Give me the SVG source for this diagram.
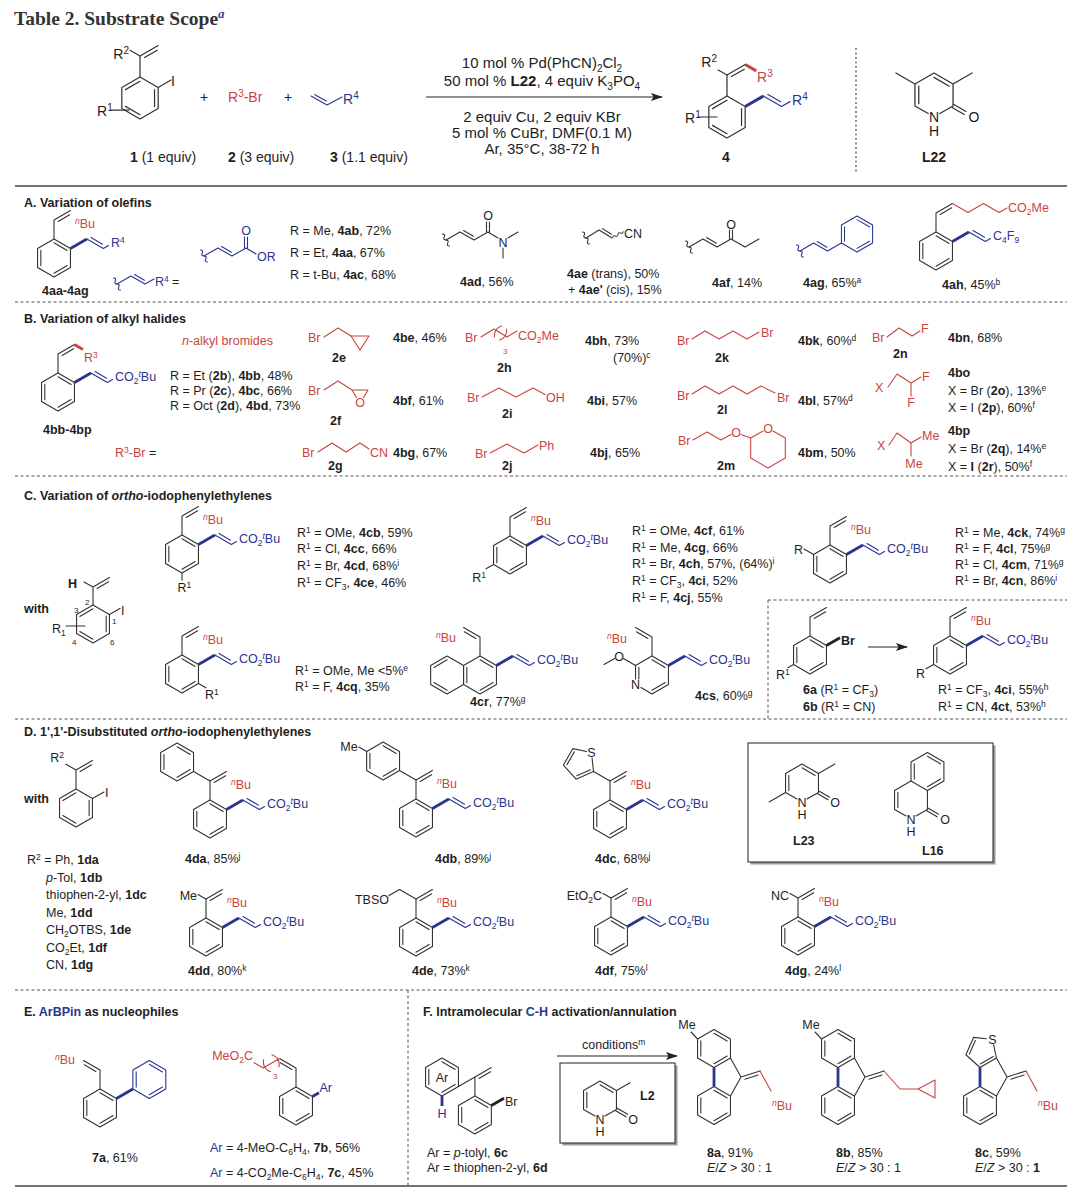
<svg xmlns="http://www.w3.org/2000/svg" width="1080" height="1193" viewBox="0 0 1080 1193">
<style>
text{font-family:"Liberation Sans",Arial,Helvetica,sans-serif;font-size:12.5px;fill:#1e1e1e}
.ttl{font-family:"Liberation Serif","Times New Roman",serif;font-weight:bold;font-size:19.5px;fill:#333}
.h{font-size:14px}
.cd{font-size:15px}
.b{font-weight:bold}
.it{font-style:italic}
.red{fill:#c8453f}
.blu{fill:#2a3590}
.sp{font-size:8.5px;baseline-shift:4.5px}
.sb{font-size:8.5px;baseline-shift:-3px}
.sph{font-size:10px;baseline-shift:5.5px}
.sbh{font-size:10px;baseline-shift:-3.5px}
.num{font-size:8px}
.k{fill:none;stroke:#333;stroke-width:1.1;stroke-linecap:round;stroke-linejoin:round}
.kr{fill:none;stroke:#c8453f;stroke-width:1.1;stroke-linecap:round;stroke-linejoin:round}
.kb{fill:none;stroke:#2a3590;stroke-width:1.1;stroke-linecap:round;stroke-linejoin:round}
.wb{fill:none;stroke:#2a3590;stroke-width:2.8}
.wr{fill:none;stroke:#c8453f;stroke-width:2.8}
.wk{fill:none;stroke:#222;stroke-width:2.8}
.rule{stroke:#444;stroke-width:1.3}
.dash{stroke:#555;stroke-width:1;stroke-dasharray:3 2.5}
.dot{stroke:#444;stroke-width:1.2;stroke-dasharray:2 2.5}
.box{fill:#fff;stroke:#333;stroke-width:1.1}
.shd{fill:#9a9a9a}
</style>
<defs>
<marker id="ah" viewBox="0 0 12 8" refX="11" refY="4" markerWidth="12" markerHeight="8" markerUnits="userSpaceOnUse" orient="auto"><path d="M0,0 L12,4 L0,8 L2.5,4 Z" fill="#222"/></marker>
<path id="hx" d="M0,-19 L16.45,-9.5 L16.45,9.5 L0,19 L-16.45,9.5 L-16.45,-9.5 Z"/>
<g id="rA"><use href="#hx"/><path d="M-13.16,7.6 L-13.16,-7.6 M13.16,7.6 L0,15.2 M0,-15.2 L13.16,-7.6"/></g>
<g id="rB"><use href="#hx"/><path d="M-13.16,-7.6 L0,-15.2 M13.16,-7.6 L13.16,7.6 M0,15.2 L-13.16,7.6"/></g>
<path id="zvR" d="M0,-19 L0,-38 L16.45,-47.5 M4.12,-36.57 L15.63,-43.21"/>
<path id="zvL" d="M0,-19 L0,-38 L-16.45,-47.5 M-4.12,-36.57 L-15.63,-43.21"/>
<g id="ch"><path class="wb" d="M16.45,-9.5 L32.9,-19"/><path class="kb" d="M32.9,-19 L49.35,-9.5 L54.5,-12.5 M37.02,-20.43 L48.53,-13.79"/></g>
<g id="P"><use href="#rA" class="k"/><use href="#zvR" class="k"/><use href="#ch"/></g>
<path id="wv" d="M-7,0 q1.75,-2.6 3.5,0 t3.5,0 t3.5,0 t3.5,0"/>
<g id="fUp"><use href="#rA" class="k" transform="translate(0,-28.5)"/></g>
<g id="fLo"><use href="#rA" class="k" transform="translate(0,28.5) scale(1,-1)"/><path class="k" d="M16.45,-19 L27,0 L16.45,19 M27,0 L46,-6 M30.82,2.15 L44.1,-2.05"/><path class="wb" d="M0,-9.5 L0,9.5"/></g>
</defs>

<rect width="1080" height="1193" fill="#fff"/>

<!-- ============ HEADER ============ -->
<g id="title"><text class="ttl" x="14" y="25">Table 2. Substrate Scope<tspan class="it" font-size="13" dy="-7" fill="#4a3f9a">a</tspan></text></g>

<g id="n-sm1">
 <g transform="translate(140,98) scale(1.105)">
  <use href="#rB" class="k"/>
  <use href="#zvR" class="k"/>
  <path class="k" d="M0,-38 L-9,-43.2 M16.45,-9.5 L28,-16.2 M-26,11 L-10,11"/>
 </g>
 <text class="h" x="129" y="59" text-anchor="end">R<tspan class="sph">2</tspan></text>
 <text class="h" x="171" y="86">I</text>
 <text class="h" x="97" y="116">R<tspan class="sph">1</tspan></text>
 <text class="h" x="130" y="162"><tspan class="b">1</tspan> (1 equiv)</text>
</g>
<g id="n-plus1"><text class="h" x="204" y="102" text-anchor="middle">+</text></g>
<g id="n-sm2">
 <text class="h red" x="228" y="102">R<tspan class="sph">3</tspan>-Br</text>
 <text class="h" x="228" y="162"><tspan class="b">2</tspan> (3 equiv)</text>
</g>
<g id="n-plus2"><text class="h" x="288" y="102" text-anchor="middle">+</text></g>
<g id="n-sm3">
 <path class="kb" d="M311,96 L327,105 L342,97 M314.9,94.7 L326.1,101"/>
 <text class="h blu" x="343" y="104">R<tspan class="sph">4</tspan></text>
 <text class="h" x="330" y="162"><tspan class="b">3</tspan> (1.1 equiv)</text>
</g>
<g id="n-cond">
 <text class="cd" x="542" y="68" text-anchor="middle">10 mol % Pd(PhCN)<tspan class="sbh">2</tspan>Cl<tspan class="sbh">2</tspan></text>
 <text class="cd" x="542" y="86" text-anchor="middle">50 mol %  <tspan class="b">L22</tspan>, 4 equiv K<tspan class="sbh">3</tspan>PO<tspan class="sbh">4</tspan></text>
 <text class="cd" x="542" y="122" text-anchor="middle">2 equiv Cu, 2 equiv KBr</text>
 <text class="cd" x="542" y="138" text-anchor="middle">5 mol % CuBr, DMF(0.1 M)</text>
 <text class="cd" x="542" y="154" text-anchor="middle">Ar, 35°C, 38-72 h</text>
</g>
<g id="n-p4">
 <g transform="translate(727,117) scale(1.105)">
  <use href="#rB" class="k"/>
  <use href="#zvR" class="k"/>
  <path class="k" d="M0,-38 L-8,-42.6 M-26,0 L-9,0"/>
  <path class="wr" d="M16.45,-47.5 L26.5,-41.7"/>
  <path class="wb" d="M16.45,-9.5 L32.9,-19"/>
  <path class="kb" d="M32.9,-19 L49.35,-9.5 L57,-13.9 M37.02,-20.43 L48.53,-13.79"/>
 </g>
 <text class="h" x="717" y="67" text-anchor="end">R<tspan class="sph">2</tspan></text>
 <text class="h red" x="757" y="82">R<tspan class="sph">3</tspan></text>
 <text class="h blu" x="792" y="105">R<tspan class="sph">4</tspan></text>
 <text class="h" x="685" y="123">R<tspan class="sph">1</tspan></text>
 <text class="h b" x="722" y="162">4</text>
</g>
<g id="n-L22">
 <g transform="translate(934,95) scale(1.158)">
  <path class="k" d="M-16.45,9.5 L-16.45,-9.5 L0,-19 L16.45,-9.5 L16.45,9.5 L5,16 M-16.45,9.5 L-5,16 M-13.16,7.6 L-13.16,-7.6 M0,-15.2 L13.16,-7.6 M16.45,-9.5 L32.9,-19 M-16.45,-9.5 L-32.9,-19 M15.7,10.8 L26.1,16.8 M17.2,8.2 L27.6,14.2"/>
 </g>
 <text class="h" x="934" y="122" text-anchor="middle">N</text>
 <text class="h" x="934" y="136" text-anchor="middle">H</text>
 <text class="h" x="974" y="122" text-anchor="middle">O</text>
 <text class="h b" x="934" y="162" text-anchor="middle">L22</text>
</g>

<!-- ============ SECTION A ============ -->
<g id="secA">
<text class="b" x="24" y="207">A. Variation of olefins</text>
<g id="n4aa" transform="translate(54,258)">
 <use href="#P"/>
 <text x="21" y="-30" class="red"><tspan class="sp it">n</tspan>Bu</text>
 <text x="57" y="-11" class="blu">R<tspan class="sp">4</tspan></text>
</g>
<text class="b" x="42" y="295">4aa-4ag</text>
<g id="n-r4def">
 <use href="#wv" class="kb" transform="translate(117,284) rotate(60)"/>
 <path class="kb" d="M117,284 L131,276 L145,284 L154,279 M134.6,274.6 L144.4,280.2"/>
 <text x="155" y="286" class="blu">R<tspan class="sp">4</tspan></text>
 <text x="172" y="286">=</text>
</g>
<g id="n-acr">
 <use href="#wv" class="kb" transform="translate(204,256) rotate(60)"/>
 <path class="kb" d="M204,256 L218,248 L232,256 L246,248 L256,254 M221.6,246.6 L231.4,252.2 M244.5,248 L244.5,237 M247.5,248 L247.5,237"/>
 <text x="246" y="235" text-anchor="middle" class="blu">O</text>
 <text x="257" y="261" class="blu">OR</text>
</g>
<text x="290" y="235">R = Me, <tspan class="b">4ab</tspan>, 72%</text>
<text x="290" y="257">R = Et, <tspan class="b">4aa</tspan>, 67%</text>
<text x="290" y="279">R = t-Bu, <tspan class="b">4ac</tspan>, 68%</text>
<g id="n4ad">
 <use href="#wv" class="k" transform="translate(446,240) rotate(60)"/>
 <path class="k" d="M446,240 L460,232 L474,240 L488,232 L498,238 M463.6,230.6 L473.4,236.2 M486.5,232 L486.5,222 M489.5,232 L489.5,222 M508,238 L518,232 M503,248 L503,258"/>
 <text x="488" y="220" text-anchor="middle">O</text>
 <text x="503" y="246.5" text-anchor="middle">N</text>
 <text x="460" y="286"><tspan class="b">4ad</tspan>, 56%</text>
</g>
<g id="n4ae">
 <use href="#wv" class="k" transform="translate(586,238) rotate(60)"/>
 <path class="k" d="M586,238 L599,230 L612,238 M602.5,228.6 L611.5,234.2"/>
 <use href="#wv" class="k" transform="translate(618,234.5) rotate(-30) scale(0.85)"/>
 <text x="624" y="238">CN</text>
 <text x="567" y="278"><tspan class="b">4ae</tspan> (trans), 50%</text>
 <text x="568" y="294">+ <tspan class="b">4ae'</tspan> (cis), 15%</text>
</g>
<g id="n4af">
 <use href="#wv" class="k" transform="translate(689,247) rotate(60)"/>
 <path class="k" d="M689,247 L703,239 L717,247 L731,239 L745,247 L759,239 M706.6,237.6 L716.4,243.2 M729.5,239 L729.5,230 M732.5,239 L732.5,230"/>
 <text x="731" y="229" text-anchor="middle">O</text>
 <text x="712" y="287"><tspan class="b">4af</tspan>, 14%</text>
</g>
<g id="n4ag">
 <use href="#wv" class="kb" transform="translate(800,251) rotate(60)"/>
 <path class="kb" d="M800,251 L813.6,243 L827.5,251 L841.4,243 M817.2,241.6 L826.9,247.2"/>
 <use href="#rA" class="kb" transform="translate(857,234) scale(0.947)"/>
 <text x="803" y="287"><tspan class="b">4ag</tspan>, 65%<tspan class="sp">a</tspan></text>
</g>
<g id="n4ah" transform="translate(936,251)">
 <use href="#P"/>
 <path class="kr" d="M16.45,-47.5 L32,-38.5 L47.5,-47.5 L63,-38.5 L71,-43"/>
 <text x="72" y="-39" class="red">CO<tspan class="sb">2</tspan>Me</text>
 <text x="57" y="-11" class="blu">C<tspan class="sb">4</tspan>F<tspan class="sb">9</tspan></text>
 <text x="6" y="38"><tspan class="b">4ah</tspan>, 45%<tspan class="sp">b</tspan></text>
</g>
</g>

<!-- ============ SECTION B ============ -->
<g id="secB">
<text class="b" x="24" y="323">B. Variation of alkyl halides</text>
<g id="n4bb" transform="translate(58,392)">
 <use href="#P"/>
 <path class="wr" d="M16.45,-47.5 L25,-42.5"/>
 <text x="26" y="-30" class="red">R<tspan class="sp">3</tspan></text>
 <text x="57" y="-11" class="blu">CO<tspan class="sb">2</tspan><tspan class="sp it">t</tspan>Bu</text>
</g>
<text class="b" x="43" y="434">4bb-4bp</text>
<text class="red" x="182" y="345"><tspan class="it">n</tspan>-alkyl bromides</text>
<text x="170" y="380">R = Et (<tspan class="b">2b</tspan>), <tspan class="b">4bb</tspan>, 48%</text>
<text x="170" y="395">R = Pr (<tspan class="b">2c</tspan>), <tspan class="b">4bc</tspan>, 66%</text>
<text x="170" y="410">R = Oct (<tspan class="b">2d</tspan>), <tspan class="b">4bd</tspan>, 73%</text>
<text x="115" y="457"><tspan class="red">R<tspan class="sp">3</tspan>-Br</tspan>  =</text>

<g id="n2e">
 <text x="308" y="342" class="red">Br</text>
 <path class="kr" d="M324,337 L338,328 L351,336 L369,336 L360,350 L351,336"/>
 <text class="b" x="332" y="362">2e</text>
 <text x="393" y="342"><tspan class="b">4be</tspan>, 46%</text>
</g>
<g id="n2f">
 <text x="308" y="395" class="red">Br</text>
 <path class="kr" d="M324,390 L338,381 L352,390 L368,390 L363.5,397.5 M352,390 L356.5,397.5"/>
 <text x="360" y="407" text-anchor="middle" class="red">O</text>
 <text class="b" x="330" y="425">2f</text>
 <text x="393" y="405"><tspan class="b">4bf</tspan>, 61%</text>
</g>
<g id="n2g">
 <text x="302" y="457" class="red">Br</text>
 <path class="kr" d="M318,452 L332,443 L346,452 L360,443 L369,449"/>
 <text x="370" y="457" class="red">CN</text>
 <text class="b" x="328" y="470">2g</text>
 <text x="393" y="457"><tspan class="b">4bg</tspan>, 67%</text>
</g>
<g id="n2h">
 <text x="465" y="342" class="red">Br</text>
 <path class="kr" d="M481,337 L494,329 L507,337 L517,331 M494.5,336.9 Q493.6,328.8 501.3,325.9 M499.7,340.1 Q507.4,337.2 506.5,329.1"/>
 <text x="503" y="354" class="red num">3</text>
 <text x="518" y="340" class="red">CO<tspan class="sb">2</tspan>Me</text>
 <text class="b" x="497" y="372">2h</text>
 <text x="585" y="345"><tspan class="b">4bh</tspan>, 73%</text>
 <text x="613" y="362">(70%)<tspan class="sp">c</tspan></text>
</g>
<g id="n2i">
 <text x="467" y="402" class="red">Br</text>
 <path class="kr" d="M482,397 L499,388 L516,397 L533,388 L545,394.5"/>
 <text x="546" y="402" class="red">OH</text>
 <text class="b" x="502" y="418">2i</text>
 <text x="587" y="405"><tspan class="b">4bi</tspan>, 57%</text>
</g>
<g id="n2j">
 <text x="475" y="458" class="red">Br</text>
 <path class="kr" d="M490,453 L507,444 L524,453 L538,445"/>
 <text x="539" y="450" class="red">Ph</text>
 <text class="b" x="502" y="470">2j</text>
 <text x="590" y="457"><tspan class="b">4bj</tspan>, 65%</text>
</g>
<g id="n2k">
 <text x="677" y="345" class="red">Br</text>
 <path class="kr" d="M692,339 L705,331 L719,339 L733,331 L747,339 L759,332"/>
 <text x="761" y="337" class="red">Br</text>
 <text class="b" x="715" y="362">2k</text>
 <text x="798" y="345"><tspan class="b">4bk</tspan>, 60%<tspan class="sp">d</tspan></text>
</g>
<g id="n2l">
 <text x="677" y="400" class="red">Br</text>
 <path class="kr" d="M692,394 L705,386 L719,394 L733,386 L747,394 L761,386 L775,393"/>
 <text x="777" y="402" class="red">Br</text>
 <text class="b" x="717" y="414">2l</text>
 <text x="798" y="405"><tspan class="b">4bl</tspan>, 57%<tspan class="sp">d</tspan></text>
</g>
<g id="n2m">
 <text x="678" y="445" class="red">Br</text>
 <path class="kr" d="M693,440 L707,432 L721,440 L731,434.5 M741,434.5 L750.7,438 L750.7,458 L768,468 L785.3,458 L785.3,438 L773,431 M763,431 L750.7,438"/>
 <text x="736" y="436.5" text-anchor="middle" class="red">O</text>
 <text x="768" y="432.5" text-anchor="middle" class="red">O</text>
 <text class="b" x="717" y="470">2m</text>
 <text x="798" y="457"><tspan class="b">4bm</tspan>, 50%</text>
</g>
<g id="n2n">
 <text x="872" y="342" class="red">Br</text>
 <path class="kr" d="M887,337 L899,328 L912,336 L920,331"/>
 <text x="921" y="333" class="red">F</text>
 <text class="b" x="893" y="358">2n</text>
 <text x="948" y="342"><tspan class="b">4bn</tspan>, 68%</text>
</g>
<g id="n4bo">
 <text x="875" y="392" class="red">X</text>
 <path class="kr" d="M888,387 L897,374 L911,383 L921,377 M911,383 L911,396"/>
 <text x="922" y="381" class="red">F</text>
 <text x="911" y="407" text-anchor="middle" class="red">F</text>
 <text class="b" x="948" y="377">4bo</text>
 <text x="948" y="395">X = Br (<tspan class="b">2o</tspan>), 13%<tspan class="sp">e</tspan></text>
 <text x="948" y="412">X = I (<tspan class="b">2p</tspan>), 60%<tspan class="sp">f</tspan></text>
</g>
<g id="n4bp">
 <text x="877" y="450" class="red">X</text>
 <path class="kr" d="M889,445 L897,433 L911,443 L921,437 M911,443 L911,456"/>
 <text x="922" y="440" class="red">Me</text>
 <text x="914" y="468" text-anchor="middle" class="red">Me</text>
 <text class="b" x="948" y="435">4bp</text>
 <text x="948" y="453">X = Br (<tspan class="b">2q</tspan>), 14%<tspan class="sp">e</tspan></text>
 <text x="948" y="471">X = <tspan class="b">I</tspan> (<tspan class="b">2r</tspan>), 50%<tspan class="sp">f</tspan></text>
</g>
</g>

<!-- ============ SECTION C ============ -->
<g id="secC">
<text class="b" x="24" y="500">C. Variation of <tspan class="it">ortho</tspan>-iodophenylethylenes</text>
<text class="b" x="24" y="613">with</text>
<g id="n-withC">
 <g transform="translate(93,624)"><use href="#rB" class="k"/></g>
 <path class="k" d="M93,605 L93,587 L84,582 M93,587 L109.45,577.5 M97.1,588.4 L108.6,581.8 M109.45,614.5 L120,608.4 M66,626 L85,626"/>
 <text class="b" x="68" y="588">H</text>
 <text x="121" y="615">I</text>
 <text x="52" y="633">R<tspan class="sb">1</tspan></text>
 <text class="num" x="85" y="605">2</text>
 <text class="num" x="74" y="613">3</text>
 <text class="num" x="112" y="624">1</text>
 <text class="num" x="110" y="645">6</text>
 <text class="num" x="72" y="645">4</text>
</g>
<g id="n4cb" transform="translate(182,554)">
 <use href="#P"/>
 <path class="k" d="M0,19 L0,26"/>
 <text x="21" y="-30" class="red"><tspan class="sp it">n</tspan>Bu</text>
 <text x="57" y="-11" class="blu">CO<tspan class="sb">2</tspan><tspan class="sp it">t</tspan>Bu</text>
 <text x="-4.5" y="38">R<tspan class="sp">1</tspan></text>
</g>
<text x="297" y="537">R<tspan class="sp">1</tspan> = OMe, <tspan class="b">4cb</tspan>, 59%</text>
<text x="297" y="553">R<tspan class="sp">1</tspan> = Cl, <tspan class="b">4cc</tspan>, 66%</text>
<text x="297" y="570">R<tspan class="sp">1</tspan> = Br, <tspan class="b">4cd</tspan>, 68%<tspan class="sp">i</tspan></text>
<text x="297" y="587">R<tspan class="sp">1</tspan> = CF<tspan class="sb">3</tspan>, <tspan class="b">4ce</tspan>, 46%</text>

<g id="n4cf" transform="translate(510,555)">
 <use href="#P"/>
 <path class="k" d="M-16.45,9.5 L-24,13.8"/>
 <text x="21" y="-30" class="red"><tspan class="sp it">n</tspan>Bu</text>
 <text x="57" y="-11" class="blu">CO<tspan class="sb">2</tspan><tspan class="sp it">t</tspan>Bu</text>
 <text x="-24" y="27" text-anchor="end">R<tspan class="sp">1</tspan></text>
</g>
<text x="632" y="535">R<tspan class="sp">1</tspan> = OMe, <tspan class="b">4cf</tspan>, 61%</text>
<text x="632" y="552">R<tspan class="sp">1</tspan> = Me, <tspan class="b">4cg</tspan>, 66%</text>
<text x="632" y="568">R<tspan class="sp">1</tspan> = Br, <tspan class="b">4ch</tspan>, 57%, (64%)<tspan class="sp">i</tspan></text>
<text x="632" y="585">R<tspan class="sp">1</tspan> = CF<tspan class="sb">3</tspan>, <tspan class="b">4ci</tspan>, 52%</text>
<text x="632" y="602">R<tspan class="sp">1</tspan> = F, <tspan class="b">4cj</tspan>, 55%</text>

<g id="n4ck" transform="translate(830,564)">
 <use href="#P"/>
 <path class="k" d="M-16.45,-9.5 L-26,-15"/>
 <text x="21" y="-30" class="red"><tspan class="sp it">n</tspan>Bu</text>
 <text x="57" y="-11" class="blu">CO<tspan class="sb">2</tspan><tspan class="sp it">t</tspan>Bu</text>
 <text x="-27" y="-10" text-anchor="end">R</text>
</g>
<text x="955" y="537">R<tspan class="sp">1</tspan> = Me, <tspan class="b">4ck</tspan>, 74%<tspan class="sp">g</tspan></text>
<text x="955" y="553">R<tspan class="sp">1</tspan> = F, <tspan class="b">4cl</tspan>, 75%<tspan class="sp">g</tspan></text>
<text x="955" y="569">R<tspan class="sp">1</tspan> = Cl, <tspan class="b">4cm</tspan>, 71%<tspan class="sp">g</tspan></text>
<text x="955" y="585">R<tspan class="sp">1</tspan> = Br, <tspan class="b">4cn</tspan>, 86%<tspan class="sp">i</tspan></text>

<g id="n4co" transform="translate(182,674)">
 <use href="#P"/>
 <path class="k" d="M16.45,9.5 L24,13.8"/>
 <text x="21" y="-30" class="red"><tspan class="sp it">n</tspan>Bu</text>
 <text x="57" y="-11" class="blu">CO<tspan class="sb">2</tspan><tspan class="sp it">t</tspan>Bu</text>
 <text x="23" y="25">R<tspan class="sp">1</tspan></text>
</g>
<text x="295" y="675">R<tspan class="sp">1</tspan> = OMe, Me &lt;5%<tspan class="sp">e</tspan></text>
<text x="295" y="691">R<tspan class="sp">1</tspan> = F, <tspan class="b">4cq</tspan>, 35%</text>

<g id="n4cr" transform="translate(480,675)">
 <use href="#rA" class="k"/>
 <use href="#hx" class="k" transform="translate(-32.9,0)"/>
 <path class="k" d="M-46.06,-7.6 L-32.9,-15.2 M-32.9,15.2 L-46.06,7.6"/>
 <use href="#zvL" class="k"/>
 <use href="#ch"/>
 <text x="-24" y="-33" text-anchor="end" class="red"><tspan class="sp it">n</tspan>Bu</text>
 <text x="57" y="-11" class="blu">CO<tspan class="sb">2</tspan><tspan class="sp it">t</tspan>Bu</text>
 <text x="-10" y="31"><tspan class="b">4cr</tspan>, 77%<tspan class="sp">g</tspan></text>
</g>

<g id="n4cs" transform="translate(652,675)">
 <path class="k" d="M-16.45,4 L-16.45,-9.5 L0,-19 L16.45,-9.5 L16.45,9.5 L0,19 L-11,12.6 M-13.16,4 L-13.16,-7.6 M0,-15.2 L13.16,-7.6 M13.16,7.6 L0,15.2 M-16.45,-9.5 L-28.5,-16.5 M-37.5,-16.5 L-48,-10.5"/>
 <use href="#zvL" class="k"/>
 <use href="#ch"/>
 <text x="-16.45" y="14" text-anchor="middle">N</text>
 <text x="-33" y="-14.5" text-anchor="middle">O</text>
 <text x="-25" y="-32" text-anchor="end" class="red"><tspan class="sp it">n</tspan>Bu</text>
 <text x="57" y="-11" class="blu">CO<tspan class="sb">2</tspan><tspan class="sp it">t</tspan>Bu</text>
 <text x="43" y="25"><tspan class="b">4cs</tspan>, 60%<tspan class="sp">g</tspan></text>
</g>

<g id="n6a" transform="translate(810,655)">
 <use href="#rA" class="k"/>
 <use href="#zvR" class="k"/>
 <path class="wk" d="M16.45,-9.5 L30,-17.3"/>
 <path class="k" d="M-16.45,9.5 L-22,12.7"/>
 <text x="31" y="-10" class="b">Br</text>
 <text x="-34" y="24">R<tspan class="sp">1</tspan></text>
</g>
<text x="803" y="694"><tspan class="b">6a</tspan> (R<tspan class="sp">1</tspan> = CF<tspan class="sb">3</tspan>)</text>
<text x="803" y="711"><tspan class="b">6b</tspan> (R<tspan class="sp">1</tspan> = CN)</text>
<line x1="868" y1="647" x2="907" y2="647" stroke="#222" stroke-width="1.1" marker-end="url(#ah)"/>
<g id="n4ci" transform="translate(950,655)">
 <use href="#P"/>
 <path class="k" d="M-16.45,9.5 L-24,13.8"/>
 <text x="21" y="-30" class="red"><tspan class="sp it">n</tspan>Bu</text>
 <text x="57" y="-11" class="blu">CO<tspan class="sb">2</tspan><tspan class="sp it">t</tspan>Bu</text>
 <text x="-25" y="23" text-anchor="end">R</text>
</g>
<text x="938" y="694">R<tspan class="sp">1</tspan> = CF<tspan class="sb">3</tspan>, <tspan class="b">4ci</tspan>, 55%<tspan class="sp">h</tspan></text>
<text x="938" y="711">R<tspan class="sp">1</tspan> = CN, <tspan class="b">4ct</tspan>, 53%<tspan class="sp">h</tspan></text>
</g>

<!-- ============ SECTION D ============ -->
<g id="secD">
<text class="b" x="24" y="736">D. 1',1'-Disubstituted <tspan class="it">ortho</tspan>-iodophenylethylenes</text>
<text class="b" x="24" y="803">with</text>
<g id="n-withD">
 <g transform="translate(76,808)"><use href="#rB" class="k"/></g>
 <path class="k" d="M76,789 L76,770 L66,764.2 M76,770 L92.45,760.5 M80.1,771.4 L91.6,764.8 M92.45,798.5 L104,792"/>
 <text x="64" y="762" text-anchor="end">R<tspan class="sp">2</tspan></text>
 <text x="105" y="797">I</text>
</g>
<text x="27" y="864">R<tspan class="sp">2</tspan> = Ph, <tspan class="b">1da</tspan></text>
<text x="46" y="881.5"><tspan class="it">p</tspan>-Tol, <tspan class="b">1db</tspan></text>
<text x="46" y="899">thiophen-2-yl, <tspan class="b">1dc</tspan></text>
<text x="46" y="916.5">Me, <tspan class="b">1dd</tspan></text>
<text x="46" y="934">CH<tspan class="sb">2</tspan>OTBS, <tspan class="b">1de</tspan></text>
<text x="46" y="951.5">CO<tspan class="sb">2</tspan>Et, <tspan class="b">1df</tspan></text>
<text x="46" y="969">CN, <tspan class="b">1dg</tspan></text>

<g id="n4da" transform="translate(210,819)">
 <use href="#P"/>
 <path class="k" d="M0,-38 L-16.45,-47.5"/>
 <use href="#rA" class="k" transform="translate(-32.9,-57)"/>
 <text x="21" y="-30" class="red"><tspan class="sp it">n</tspan>Bu</text>
 <text x="57" y="-11" class="blu">CO<tspan class="sb">2</tspan><tspan class="sp it">t</tspan>Bu</text>
 <text x="-25" y="44"><tspan class="b">4da</tspan>, 85%<tspan class="sp">j</tspan></text>
</g>
<g id="n4db" transform="translate(416,818)">
 <use href="#P"/>
 <path class="k" d="M0,-38 L-16.45,-47.5 M-49.35,-66.5 L-57,-70.9"/>
 <use href="#rA" class="k" transform="translate(-32.9,-57)"/>
 <text x="-67" y="-67" text-anchor="middle">Me</text>
 <text x="21" y="-30" class="red"><tspan class="sp it">n</tspan>Bu</text>
 <text x="57" y="-11" class="blu">CO<tspan class="sb">2</tspan><tspan class="sp it">t</tspan>Bu</text>
 <text x="19" y="45"><tspan class="b">4db</tspan>, 89%<tspan class="sp">j</tspan></text>
</g>
<g id="n4dc" transform="translate(610,819)">
 <use href="#P"/>
 <path class="k" d="M0,-38 L-16.5,-47.5 L-33.9,-39.8 L-46.6,-53.9 L-37.1,-70.4 L-23.4,-67.45 M-16.5,-47.5 L-17.92,-60.9 M-19.58,-49.28 L-33.15,-43.28 M-43.06,-54.27 L-35.65,-67.14"/>
 <text x="-18.5" y="-62" text-anchor="middle">S</text>
 <text x="21" y="-30" class="red"><tspan class="sp it">n</tspan>Bu</text>
 <text x="57" y="-11" class="blu">CO<tspan class="sb">2</tspan><tspan class="sp it">t</tspan>Bu</text>
 <text x="-15" y="44"><tspan class="b">4dc</tspan>, 68%<tspan class="sp">j</tspan></text>
</g>
<g id="n-ligbox">
 <rect class="shd" x="750.5" y="745.5" width="245" height="119"/>
 <rect class="box" x="748" y="743" width="245" height="119"/>
</g>
<g id="n-L23">
 <path class="k" d="M785.55,792.5 L785.55,773.5 L802,764 L818.45,773.5 L818.45,792.5 L807,799 M785.55,792.5 L797,799 M788.84,790.6 L788.84,775.4 M802,767.8 L815.16,775.4 M818.45,773.5 L834.9,764 M785.55,792.5 L769.1,802 M817.7,793.8 L828.1,799.8 M819.2,791.2 L829.6,797.2"/>
 <text x="802" y="806.5" text-anchor="middle">N</text>
 <text x="802" y="818.5" text-anchor="middle">H</text>
 <text x="835" y="806.5" text-anchor="middle">O</text>
 <text class="b" x="793" y="845">L23</text>
</g>
<g id="n-L16">
 <use href="#rA" class="k" transform="translate(927.45,771.5)"/>
 <path class="k" d="M894.55,790.5 L911,781 M927.45,790.5 L927.45,809.5 L916,816 M894.55,809.5 L906,816 M894.55,809.5 L894.55,790.5 M897.84,807.6 L897.84,792.4 M926.7,810.8 L937.1,816.8 M928.2,808.2 L938.6,814.2"/>
 <text x="911" y="823.5" text-anchor="middle">N</text>
 <text x="911" y="835.5" text-anchor="middle">H</text>
 <text x="945" y="823.5" text-anchor="middle">O</text>
 <text class="b" x="922" y="855">L16</text>
</g>
<g id="n4dd" transform="translate(206,937)">
 <use href="#P"/>
 <path class="k" d="M0,-38 L-8,-42.6"/>
 <text x="-9" y="-37" text-anchor="end">Me</text>
 <text x="21" y="-30" class="red"><tspan class="sp it">n</tspan>Bu</text>
 <text x="57" y="-11" class="blu">CO<tspan class="sb">2</tspan><tspan class="sp it">t</tspan>Bu</text>
 <text x="-18" y="38"><tspan class="b">4dd</tspan>, 80%<tspan class="sp">k</tspan></text>
</g>
<g id="n4de" transform="translate(416,937)">
 <use href="#P"/>
 <path class="k" d="M0,-38 L-16.45,-47.5 L-27,-41.4"/>
 <text x="-27" y="-33.5" text-anchor="end">TBSO</text>
 <text x="21" y="-30" class="red"><tspan class="sp it">n</tspan>Bu</text>
 <text x="57" y="-11" class="blu">CO<tspan class="sb">2</tspan><tspan class="sp it">t</tspan>Bu</text>
 <text x="-4" y="38"><tspan class="b">4de</tspan>, 73%<tspan class="sp">k</tspan></text>
</g>
<g id="n4df" transform="translate(611,936)">
 <use href="#P"/>
 <path class="k" d="M0,-38 L-8,-42.6"/>
 <text x="-9" y="-36" text-anchor="end">EtO<tspan class="sb">2</tspan>C</text>
 <text x="21" y="-30" class="red"><tspan class="sp it">n</tspan>Bu</text>
 <text x="57" y="-11" class="blu">CO<tspan class="sb">2</tspan><tspan class="sp it">t</tspan>Bu</text>
 <text x="-16" y="39"><tspan class="b">4df</tspan>, 75%<tspan class="sp">l</tspan></text>
</g>
<g id="n4dg" transform="translate(798,936)">
 <use href="#P"/>
 <path class="k" d="M0,-38 L-8,-42.6"/>
 <text x="-9" y="-36" text-anchor="end">NC</text>
 <text x="21" y="-30" class="red"><tspan class="sp it">n</tspan>Bu</text>
 <text x="57" y="-11" class="blu">CO<tspan class="sb">2</tspan><tspan class="sp it">t</tspan>Bu</text>
 <text x="-13" y="39"><tspan class="b">4dg</tspan>, 24%<tspan class="sp">l</tspan></text>
</g>
</g>

<!-- ============ SECTION E ============ -->
<g id="secE">
<text class="b" x="24" y="1016">E. <tspan class="blu">ArBPin</tspan> as nucleophiles</text>
<g id="n7a" transform="translate(100,1108)">
 <use href="#rA" class="k"/>
 <use href="#zvL" class="k"/>
 <path class="wb" d="M16.45,-9.5 L32.9,-19"/>
 <use href="#rA" class="kb" transform="translate(49.35,-28.5)"/>
 <text x="-25" y="-44" text-anchor="end" class="red"><tspan class="sp it">n</tspan>Bu</text>
 <text x="-8" y="54"><tspan class="b">7a</tspan>, 61%</text>
</g>
<g id="n7b" transform="translate(296,1106)">
 <use href="#rA" class="k"/>
 <use href="#zvL" class="k"/>
 <path class="kr" d="M-16.45,-47.5 L-32.9,-38 L-42,-43.3 M-32.3,-46.46 Q-34,-37.4 -25.3,-34.34 M-24.06,-51.16 Q-15.4,-48.1 -17.06,-39.04"/>
 <text x="-23" y="-27" class="red num">3</text>
 <text x="-43" y="-46" text-anchor="end" class="red">MeO<tspan class="sb">2</tspan>C</text>
 <path class="wb" d="M16.45,-9.5 L23,-13.3"/>
 <text x="23.5" y="-14" class="blu">Ar</text>
</g>
<text x="210" y="1152"><tspan class="blu">Ar</tspan> = 4-MeO-C<tspan class="sb">6</tspan>H<tspan class="sb">4</tspan>, <tspan class="b">7b</tspan>, 56%</text>
<text x="210" y="1177"><tspan class="blu">Ar</tspan> = 4-CO<tspan class="sb">2</tspan>Me-C<tspan class="sb">6</tspan>H<tspan class="sb">4</tspan>, <tspan class="b">7c</tspan>, 45%</text>
</g>

<!-- ============ SECTION F ============ -->
<g id="secF">
<text class="b" x="423" y="1016">F. Intramolecular <tspan class="blu">C-H</tspan> activation/annulation</text>
<g id="n6c">
 <use href="#rA" class="k" transform="translate(442,1077)"/>
 <text x="442" y="1081.5" text-anchor="middle">Ar</text>
 <path class="k" d="M458.45,1086.5 L474.9,1077 L491.35,1067.5 M479,1078.4 L490.5,1071.8 M474.9,1077 L474.9,1096"/>
 <use href="#rA" class="k" transform="translate(474.9,1115)"/>
 <path class="wk" d="M491.35,1105.5 L504,1098.2"/>
 <text x="505" y="1106">Br</text>
 <path class="wb" d="M442,1096 L442,1106"/>
 <text x="442" y="1118" text-anchor="middle" class="blu">H</text>
</g>
<text x="427" y="1157">Ar = <tspan class="it">p</tspan>-tolyl, <tspan class="b">6c</tspan></text>
<text x="427" y="1172">Ar = thiophen-2-yl, <tspan class="b">6d</tspan></text>
<g id="n-condF">
 <line x1="557" y1="1056" x2="677" y2="1056" stroke="#222" stroke-width="1.1" marker-end="url(#ah)"/>
 <text x="582" y="1049">conditions<tspan class="sp">m</tspan></text>
</g>
<g id="n-L2">
 <rect class="shd" x="562.5" y="1065.5" width="115" height="80"/>
 <rect class="box" x="560" y="1063" width="115" height="80"/>
 <path class="k" d="M583.55,1109.5 L583.55,1090.5 L600,1081 L616.45,1090.5 L616.45,1109.5 L605,1116 M583.55,1109.5 L595,1116 M586.84,1107.6 L586.84,1092.4 M600,1084.8 L613.16,1092.4 M616.45,1090.5 L630,1082.7 M615.7,1110.8 L626.1,1116.8 M617.2,1108.2 L627.6,1114.2"/>
 <text x="600" y="1123.5" text-anchor="middle">N</text>
 <text x="600" y="1135.5" text-anchor="middle">H</text>
 <text x="633" y="1123.5" text-anchor="middle">O</text>
 <text class="b" x="640" y="1100">L2</text>
</g>
<g id="n8a" transform="translate(714,1077)">
 <use href="#fUp"/>
 <use href="#fLo"/>
 <path class="k" d="M-16.45,-38 L-23,-45"/>
 <text x="-27" y="-48" text-anchor="middle">Me</text>
 <path class="kr" d="M46,-6 L57,14"/>
 <text x="58" y="33" class="red"><tspan class="sp it">n</tspan>Bu</text>
 <text x="-7" y="80"><tspan class="b">8a</tspan>, 91%</text>
 <text x="-7" y="95"><tspan class="it">E</tspan>/<tspan class="it">Z</tspan> &gt; 30 : 1</text>
</g>
<g id="n8b" transform="translate(838,1077)">
 <use href="#fUp"/>
 <use href="#fLo"/>
 <path class="k" d="M-16.45,-38 L-23,-45"/>
 <text x="-27" y="-48" text-anchor="middle">Me</text>
 <path class="kr" d="M46,-6 L62,12 L80,12 M80,12 L97,3 L97,21 L80,12"/>
 <text x="-2" y="80"><tspan class="b">8b</tspan>, 85%</text>
 <text x="-2" y="95"><tspan class="it">E</tspan>/<tspan class="it">Z</tspan> &gt; 30 : 1</text>
</g>
<g id="n8c" transform="translate(980,1077)">
 <use href="#fLo"/>
 <path class="k" d="M16.45,-19 L13.64,-32.21 M6.53,-38.22 L-6.4,-39.58 L-14.13,-22.23 L0,-9.5 L16.45,-19 M-10.65,-22.97 L-4.62,-36.5 M0.37,-13.04 L13.2,-20.45"/>
 <text x="12.5" y="-33.5" text-anchor="middle">S</text>
 <path class="kr" d="M46,-6 L57,14"/>
 <text x="58" y="33" class="red"><tspan class="sp it">n</tspan>Bu</text>
 <text x="-5" y="80"><tspan class="b">8c</tspan>, 59%</text>
 <text x="-5" y="95"><tspan class="it">E</tspan>/<tspan class="it">Z</tspan> &gt; 30 : <tspan class="b">1</tspan></text>
</g>
</g>

<!-- ============ RULES / CONNECTORS ============ -->
<g id="connectors">
 <line class="rule" x1="15" y1="186" x2="1067" y2="186"/>
 <line class="dot" x1="856" y1="48" x2="856" y2="172"/>
 <line class="dash" x1="15" y1="302" x2="1067" y2="302"/>
 <line class="dash" x1="15" y1="476" x2="1067" y2="476"/>
 <line class="dash" x1="768" y1="600" x2="1067" y2="600"/>
 <line class="dash" x1="768" y1="600" x2="768" y2="719"/>
 <line class="dash" x1="15" y1="719" x2="1067" y2="719"/>
 <line class="dash" x1="15" y1="990" x2="1067" y2="990"/>
 <line class="dash" x1="408" y1="990" x2="408" y2="1186"/>
 <line class="rule" x1="15" y1="1186" x2="1067" y2="1186"/>
 <line x1="426" y1="97" x2="662" y2="97" stroke="#222" stroke-width="1.2" marker-end="url(#ah)"/>
</g>
</svg>
